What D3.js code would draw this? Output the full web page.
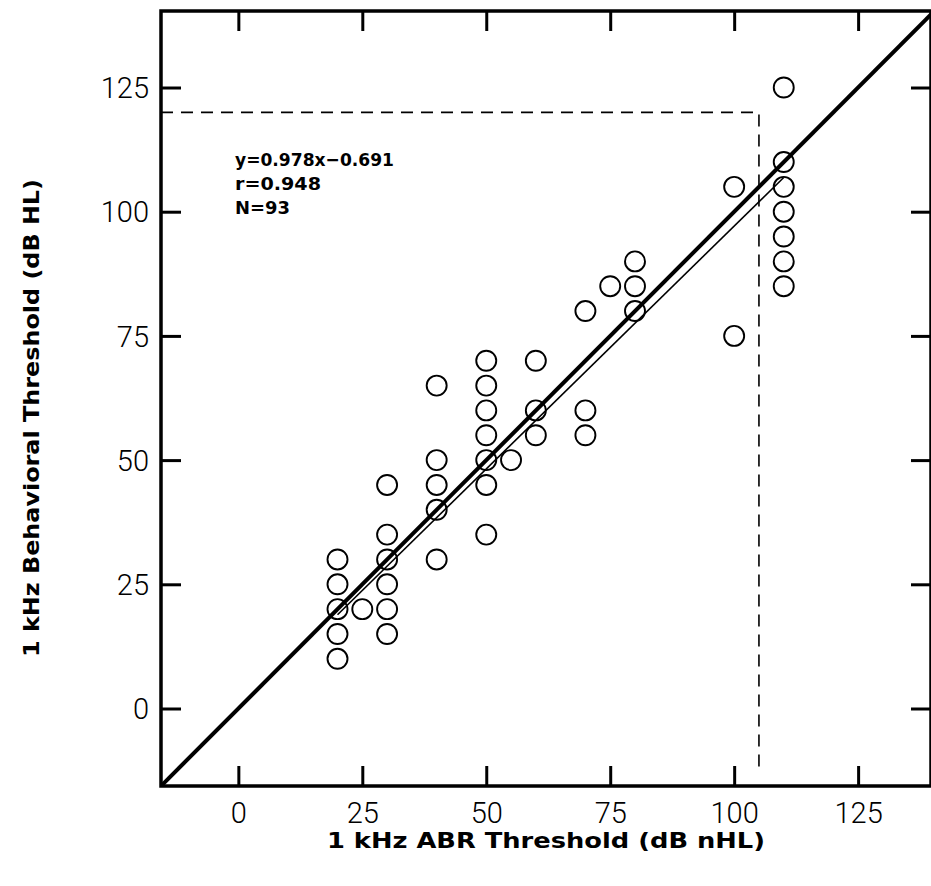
<!DOCTYPE html>
<html><head><meta charset="utf-8">
<script src="https://cdn.jsdelivr.net/npm/d3@7"></script>
<style>body{margin:0;background:#fff}svg{display:block}</style>
</head><body><div id="chart"></div>
<script>
// Data
const abrX = [20,20,20,20,20, 25, 30,30,30,30,30,30, 40,40,40,40,40, 50,50,50,50,50,50,50, 55, 60,60,60, 70,70,70, 75, 80,80,80, 100,100, 110,110,110,110,110,110,110];
const behY = [10,15,20,25,30, 20, 15,20,25,30,35,45, 30,40,45,50,65, 35,45,50,55,60,65,70, 50, 55,60,70, 55,60,80, 85, 80,85,90, 75,105, 85,90,95,100,105,110,125];
const xTicks = [0,25,50,75,100,125];
const yTicks = [0,25,50,75,100,125];
const xDomain = [-15.6, 139.7];
const yDomain = [-15.6, 140.4];
const slope = 0.978, intercept = -0.691;
const fitRange = [20, 110];
const dashedPath = [[-15.6,120],[105,120],[105,-12]];
const statsText = ["y=0.978x\u22120.691","r=0.948","N=93"];
const xLabel = "1 kHz ABR Threshold (dB nHL)";
const yLabel = "1 kHz Behavioral Threshold (dB HL)";

const W=931,H=886;
const L=161,R=931,T=11,B=786;
const svg=d3.select("#chart").append("svg").attr("width",W).attr("height",H);
const x=d3.scaleLinear().domain(xDomain).range([L,R]);
const y=d3.scaleLinear().domain(yDomain).range([B,T]);

svg.append("clipPath").attr("id","clip").append("rect").attr("x",L).attr("y",T).attr("width",R-L).attr("height",B-T);
const g=svg.append("g").attr("clip-path","url(#clip)");
const line=d3.line().x(d=>x(d[0])).y(d=>y(d[1]));

g.append("path").attr("d",line(dashedPath)).attr("fill","none").attr("stroke","#000").attr("stroke-width",1.6).attr("stroke-dasharray","12,8");
g.append("path").attr("d",line([[xDomain[0],xDomain[0]],[xDomain[1],xDomain[1]]])).attr("stroke","#000").attr("stroke-width",4).attr("fill","none");
g.append("path").attr("d",line(fitRange.map(v=>[v,slope*v+intercept]))).attr("stroke","#000").attr("stroke-width",1.6).attr("fill","none");
g.selectAll("circle").data(abrX.map((v,i)=>[v,behY[i]])).join("circle")
 .attr("cx",d=>x(d[0])).attr("cy",d=>y(d[1])).attr("r",10)
 .attr("fill","none").attr("stroke","#000").attr("stroke-width",1.9);

const tl=20;
const ax=(gen,tr)=>{const a=svg.append("g").attr("transform",tr).call(gen);a.select(".domain").remove();a.selectAll("line").attr("stroke","#000").attr("stroke-width",3);return a;};
const bx=ax(d3.axisBottom(x).tickValues(xTicks).tickSize(-tl).tickFormat(d3.format("d")),`translate(0,${B})`);
bx.selectAll("text").attr("dy",null).attr("y",37).attr("font-family","Roboto").attr("font-weight",300).attr("font-size",29).attr("fill","#000");
ax(d3.axisTop(x).tickValues(xTicks).tickSize(-tl).tickFormat(""),`translate(0,${T})`);
const ly=ax(d3.axisLeft(y).tickValues(yTicks).tickSize(-tl).tickFormat(d3.format("d")),`translate(${L},0)`);
ly.selectAll("text").attr("x",-12).attr("dy","0.35em").attr("font-family","Roboto").attr("font-weight",300).attr("font-size",29).attr("fill","#000");
ax(d3.axisRight(y).tickValues(yTicks).tickSize(-tl).tickFormat(""),`translate(${R},0)`);

svg.append("rect").attr("x",L).attr("y",T).attr("width",R-L).attr("height",B-T).attr("fill","none").attr("stroke","#000").attr("stroke-width",3.5);

const st=svg.append("g").attr("font-family","DejaVu Sans").attr("font-weight","bold").attr("font-size",18);
const statW=[159,86,55];
statsText.forEach((s,i)=>st.append("text").attr("x",235).attr("y",166+i*24).attr("textLength",statW[i]).attr("lengthAdjust","spacingAndGlyphs").text(s));

svg.append("text").attr("x",(L+R)/2).attr("y",848).attr("text-anchor","middle").attr("font-family","DejaVu Sans").attr("font-weight","bold").attr("font-size",22)
 .attr("textLength",438).attr("lengthAdjust","spacingAndGlyphs").text(xLabel);
svg.append("text").attr("transform",`translate(39,418) rotate(-90)`).attr("text-anchor","middle").attr("font-family","DejaVu Sans").attr("font-weight","bold").attr("font-size",22)
 .attr("textLength",478).attr("lengthAdjust","spacingAndGlyphs").text(yLabel);
</script></body></html>
